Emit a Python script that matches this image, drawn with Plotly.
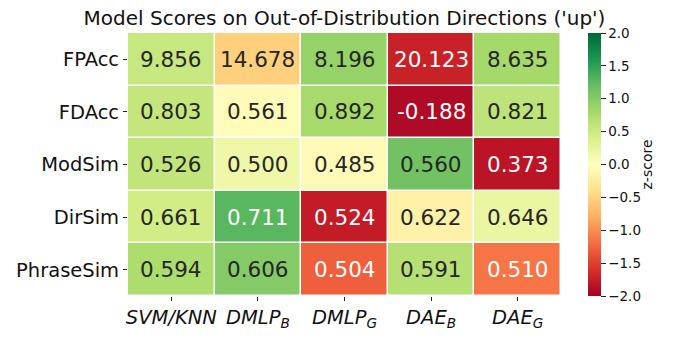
import numpy as np
import plotly.graph_objects as go
from plotly.colors import sample_colorscale, unlabel_rgb

metrics = ["FPAcc", "FDAcc", "ModSim", "DirSim", "PhraseSim"]
models = ["<i>SVM/KNN</i>", "<i>DMLP<sub>B</sub></i>", "<i>DMLP<sub>G</sub></i>",
          "<i>DAE<sub>B</sub></i>", "<i>DAE<sub>G</sub></i>"]
fpacc = [9.856, 14.678, 8.196, 20.123, 8.635]
fdacc = [0.803, 0.561, 0.892, -0.188, 0.821]
modsim = [0.526, 0.500, 0.485, 0.560, 0.373]
dirsim = [0.661, 0.711, 0.524, 0.622, 0.646]
phrasesim = [0.594, 0.606, 0.504, 0.591, 0.510]
higher_is_better = [False, True, True, True, True]

values = np.array([fpacc, fdacc, modsim, dirsim, phrasesim])
z = []
for row, hib in zip(values, higher_is_better):
    zr = (row - row.mean()) / row.std()
    z.append(zr if hib else -zr)
z = np.array(z)

zmin, zmax = -2.0, 2.0

def lum(rgb):
    out = []
    for c in rgb:
        c = c / 255.0
        out.append(c / 12.92 if c <= 0.03928 else ((c + 0.055) / 1.055) ** 2.4)
    return 0.2126 * out[0] + 0.7152 * out[1] + 0.0722 * out[2]

fig = go.Figure()
fig.add_trace(go.Heatmap(
    z=z, x=models, y=metrics, colorscale="RdYlGn", zmin=zmin, zmax=zmax,
    xgap=1.5, ygap=1.5, hoverinfo="skip",
    colorbar=dict(
        x=1.062, xanchor="left", xpad=0, y=0.5, yanchor="middle",
        len=1.0, lenmode="fraction", thickness=13, outlinewidth=0,
        tickvals=[-2, -1.5, -1, -0.5, 0, 0.5, 1, 1.5, 2],
        ticktext=["\u22122.0", "\u22121.5", "\u22121.0", "\u22120.5", "0.0", "0.5", "1.0", "1.5", "2.0"],
        ticks="outside", ticklen=5, tickcolor="#222", ypad=0,
        tickfont=dict(size=13.5, color="#111"),
    ),
))

annotations = []
for i, m in enumerate(metrics):
    for j, mod in enumerate(models):
        frac = (np.clip(z[i, j], zmin, zmax) - zmin) / (zmax - zmin)
        rgb = unlabel_rgb(sample_colorscale("RdYlGn", [frac])[0])
        color = "#262626" if lum(rgb) > 0.408 else "white"
        annotations.append(dict(
            x=mod, y=m, xref="x", yref="y", text=f"{values[i, j]:.3f}",
            showarrow=False, font=dict(size=21.5, color=color),
        ))
annotations.append(dict(
    x=(656 - 128) / 433, y=0.5, xref="paper", yref="paper", text="z-score",
    textangle=-90, showarrow=False, font=dict(size=14, color="#111"),
))

fig.update_layout(
    width=674, height=343,
    margin=dict(l=128, r=113, t=33, b=41),
    paper_bgcolor="white", plot_bgcolor="white",
    font=dict(family="DejaVu Sans", color="#111"),
    title=dict(text="Model Scores on Out-of-Distribution Directions ('up')",
               x=(128 + 561) / 2 / 674, xanchor="center",
               y=1 - 18 / 343, yanchor="middle", yref="container",
               font=dict(size=20, color="#111")),
    annotations=annotations,
    xaxis=dict(showgrid=False, zeroline=False, ticks="outside", ticklen=4,
               tickcolor="#222", tickfont=dict(size=19.5, color="#111")),
    yaxis=dict(showgrid=False, zeroline=False, ticks="outside", ticklen=4,
               tickcolor="#222", autorange="reversed",
               tickfont=dict(size=19.5, color="#111")),
)

fig.write_html("out.html")
